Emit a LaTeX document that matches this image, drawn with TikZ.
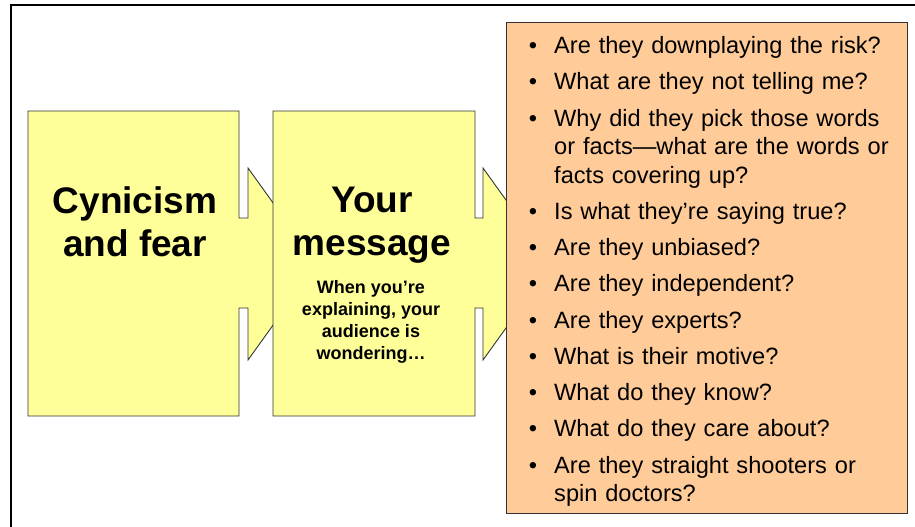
\documentclass[tikz,border=0pt]{standalone}
\usepackage{fontspec}
\setmainfont{Liberation Sans}

\definecolor{padyellow}{HTML}{FFFF99}
\definecolor{padorange}{HTML}{FFCC99}

\tikzset{
  padbox/.style={draw=black!80,line width=0.9pt,line join=miter},
  bigtext/.style={align=center,inner sep=0pt,font=\bfseries\fontsize{37}{43}\selectfont},
  smalltext/.style={align=center,inner sep=0pt,font=\bfseries\fontsize{18}{22}\selectfont},
}

\begin{document}
\begin{tikzpicture}[x=1pt,y=-1pt]
  \useasboundingbox (0,0) rectangle (915,527);

  % frame, open at right and bottom
  \draw[line width=1.6pt] (11,540) -- (11,5) -- (930,5);

  % first box: its arrow head runs under the second box
  \begin{scope}
    \draw[padbox,fill=padyellow] (28,111) -- (239,111) -- (239,218) -- (248,218) -- (248,168)
      -- (317,264) -- (248,360) -- (248,308) -- (239,308) -- (239,416) -- (28,416) -- cycle;
    \node[bigtext] (cynic) at (135,222) {Cynicism\\and fear};
  \end{scope}

  % second box, same outline
  \begin{scope}
    \draw[padbox,fill=padyellow] (273,111) -- (475,111) -- (475,218) -- (483,218) -- (483,168)
      -- (552,264) -- (483,360) -- (483,308) -- (475,308) -- (475,416) -- (273,416) -- cycle;
    \node[bigtext] (msg) at (372,225) {Your\\message};
    \node[smalltext] (wonder) at (371,322) {When you're\\explaining, your\\audience is\\wondering…};
  \end{scope}

  % questions
  \begin{scope}
    \draw[padbox,fill=padorange] (506,22) rectangle (907,513);
    \node[anchor=north west,inner sep=0pt,text width=370pt,
          font=\fontsize{23.6}{28.5}\selectfont] (questions) at (527,25) {%
      \begin{list}{\textbullet}{\setlength{\itemsep}{7.75pt}\setlength{\parsep}{0pt}%
          \setlength{\topsep}{0pt}\setlength{\partopsep}{0pt}\setlength{\labelwidth}{10pt}%
          \setlength{\labelsep}{17pt}\setlength{\leftmargin}{27pt}}
        \item Are they downplaying the risk?
        \item What are they not telling me?
        \item Why did they pick those words\\or facts—what are the words or\\facts covering up?
        \item Is what they're saying true?
        \item Are they unbiased?
        \item Are they independent?
        \item Are they experts?
        \item What is their motive?
        \item What do they know?
        \item What do they care about?
        \item Are they straight shooters or\\spin doctors?
      \end{list}};
  \end{scope}
\end{tikzpicture}
\end{document}
